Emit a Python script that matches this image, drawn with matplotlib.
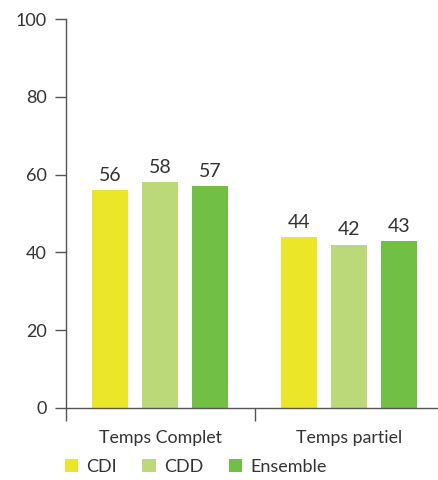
import matplotlib
matplotlib.use("Agg")
import matplotlib.pyplot as plt
import numpy as np
from matplotlib.patches import Patch

categories = ["Temps Complet", "Temps partiel"]
series = ["CDI", "CDD", "Ensemble"]
values = {
    "CDI": [56, 44],
    "CDD": [58, 42],
    "Ensemble": [57, 43],
}
colors = ["#ebe628", "#bcd979", "#72bf45"]
yticks = [0, 20, 40, 60, 80, 100]

plt.rcParams['font.family'] = ['Lato', 'DejaVu Sans']
txt = "#333333"
axc = "#555555"

fig = plt.figure(figsize=(4.39, 4.8), dpi=100)
ax = fig.add_axes([66/439, 72/480, (438-66)/439, (408-19)/480])

x = np.arange(len(categories))
off = 50/189
w = 36/189
for i, s in enumerate(series):
    pos = x + (i-1)*off
    bars = ax.bar(pos, values[s], width=w, color=colors[i], label=s, zorder=2)
    for b, v in zip(bars, values[s]):
        ax.text(b.get_x()+b.get_width()/2, v + 1.6, str(v), ha='center', va='bottom',
                fontsize=14, color=txt)

ax.set_xlim(-0.5, 1.5 - 6/189)
ax.set_ylim(0, 100)
ax.set_yticks(yticks)
ax.set_yticklabels([str(t) for t in yticks], fontsize=13, color=txt)
ax.tick_params(axis='y', length=8, width=1, color=axc, pad=6)
ax.set_xticks(x)
ax.set_xticklabels(categories, fontsize=12.8, color=txt)
ax.set_xticks([-0.5, 0.5], minor=True)
ax.tick_params(axis='x', which='major', length=0, pad=16)
ax.tick_params(axis='x', which='minor', length=9, width=1, color=axc)
for sp in ['top', 'right']:
    ax.spines[sp].set_visible(False)
for sp in ['left', 'bottom']:
    ax.spines[sp].set_color(axc)
    ax.spines[sp].set_linewidth(1)

handles = [Patch(facecolor=c, edgecolor='none') for c in colors]
fig.legend(handles, series, loc='lower left', bbox_to_anchor=(54/439, -0.012), ncol=3,
           frameon=False, fontsize=13, handlelength=0.75, handleheight=0.75,
           handletextpad=0.45, columnspacing=1.4, labelcolor=txt, borderaxespad=0.2)

fig.savefig("out.png", dpi=100)
